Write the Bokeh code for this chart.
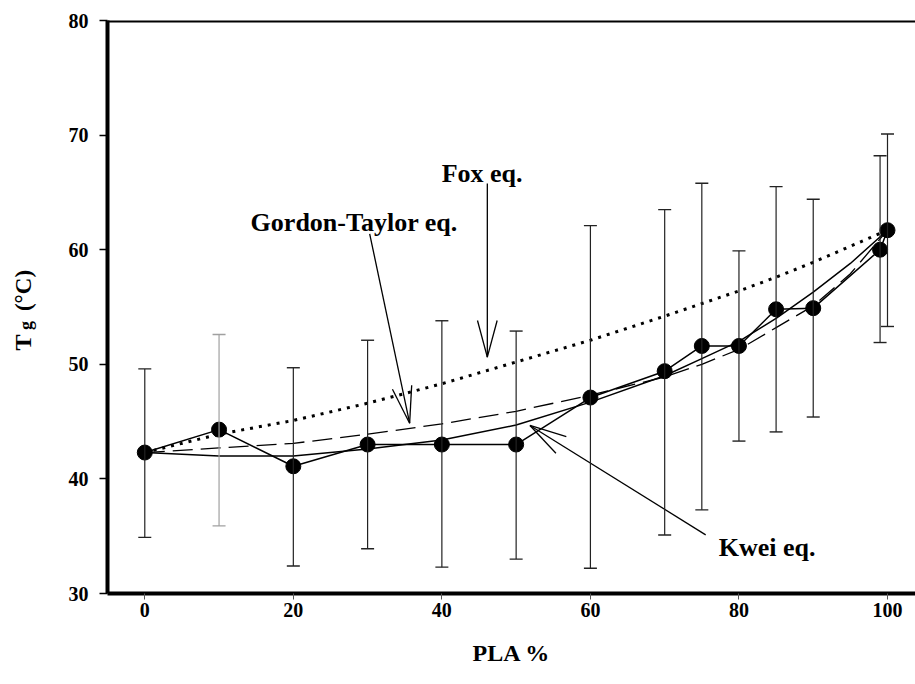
import math
from bokeh.plotting import figure
from bokeh.layouts import row
from bokeh.models import (Range1d, ColumnDataSource, Whisker, TeeHead, Label,
                          Span, FixedTicker)
from bokeh.core.properties import value
from bokeh.embed import file_html
from bokeh.resources import INLINE

# ---------------- data ----------------
pla = [0, 10, 20, 30, 40, 50, 60, 70, 75, 80, 85, 90, 99, 100]
tg = [42.3, 44.3, 41.1, 43.0, 43.0, 43.0, 47.1, 49.4, 51.6, 51.6, 54.8, 54.9, 60.0, 61.7]
tg_upper = [49.6, 52.6, 49.7, 52.1, 53.8, 52.9, 62.1, 63.5, 65.8, 59.9, 65.5, 64.4, 68.2, 70.1]
tg_lower = [34.9, 35.9, 32.4, 33.9, 32.3, 33.0, 32.2, 35.1, 37.3, 43.3, 44.1, 45.4, 51.9, 53.3]

curve_x = [0, 10, 20, 30, 40, 50, 60, 70, 75, 80, 85, 90, 95, 100]
fox_y = [42.3, 43.9, 45.1, 46.6, 48.3, 50.2, 52.1, 54.2, 55.3, 56.4, 57.6, 58.9, 60.3, 61.7]
gordon_taylor_y = [42.3, 42.7, 43.1, 43.9, 44.8, 45.9, 47.3, 48.9, 50.0, 51.3, 53.2, 55.1, 57.9, 61.7]
kwei_y = [42.3, 42.0, 42.0, 42.6, 43.4, 44.7, 46.7, 49.0, 50.5, 52.0, 54.0, 56.3, 58.8, 61.7]

x_ticks = [0, 20, 40, 60, 80, 100]
y_ticks = [30, 40, 50, 60, 70, 80]

note_text = ["Fox eq.", "Gordon-Taylor eq.", "Kwei eq."]
note_x = [39.97, 14.25, 77.27]
note_y = [66.65, 62.37, 34.0]
arrow_tail_x = [46.12, 30.28, 75.52]
arrow_tail_y = [65.78, 61.39, 35.12]
arrow_tip_x = [46.12, 35.66, 51.86]
arrow_tip_y = [50.62, 44.86, 44.66]

y_title_parts = ["T", "g", "(°C)"]

# ---------------- layout constants ----------------
W, H = 915, 684
LAB_W = 50                      # strip holding the rotated y title
X0, X1 = -5.02, 103.77
Y0, Y1 = 30, 80
FW, FH = 808, 573
FONT = "Liberation Serif"

# ---------------- y title strip ----------------
lab = figure(frame_width=LAB_W, frame_height=H, x_range=Range1d(0, LAB_W),
             y_range=Range1d(0, H), output_backend="svg", toolbar_location=None,
             x_axis_location=None, y_axis_location=None,
             min_border_left=0, min_border_right=0, min_border_top=0, min_border_bottom=0,
             background_fill_color="white", border_fill_color="white")
lab.outline_line_color = None
lab.xgrid.visible = False
lab.ygrid.visible = False
# (text, font size, centre x, centre y from top)
title_layout = [(y_title_parts[0], "24px", 22.5, 322),
                (y_title_parts[1], "18px", 25.5, 305),
                (y_title_parts[2], "23px", 22.5, 270)]
for t, fs, cx, cy in title_layout:
    lab.text(x=[cx], y=[H - cy], text=[t], angle=math.pi / 2,
             text_font=value(FONT), text_font_style="bold", text_font_size=value(fs),
             text_color="black", text_align="center", text_baseline="middle")

# ---------------- main figure ----------------
p = figure(frame_width=FW, frame_height=FH,
           x_range=Range1d(X0, X1), y_range=Range1d(Y0, Y1),
           output_backend="svg", toolbar_location=None,
           min_border_left=107 - LAB_W, min_border_right=0,
           min_border_top=20, min_border_bottom=91,
           background_fill_color="white", border_fill_color="white")
p.outline_line_color = None
p.xgrid.visible = False
p.ygrid.visible = False

for ax in (p.xaxis[0], p.yaxis[0]):
    ax.axis_line_width = 4
    ax.axis_line_color = "black"
    ax.minor_tick_line_color = None
    ax.major_tick_in = 0
    ax.major_label_text_font = FONT
    ax.major_label_text_font_style = "bold"
    ax.major_label_text_font_size = "20px"
    ax.major_label_text_color = "black"

p.xaxis.ticker = FixedTicker(ticks=x_ticks)
p.yaxis.ticker = FixedTicker(ticks=y_ticks)
p.xaxis.major_tick_out = 6
p.xaxis.major_tick_line_width = 1
p.xaxis.major_tick_line_color = "#555555"
p.xaxis.major_label_standoff = 3
p.yaxis.major_tick_out = 8
p.yaxis.major_tick_line_width = 1.5
p.yaxis.major_label_standoff = 11

p.xaxis.axis_label = "PLA %"
p.xaxis.axis_label_text_font = FONT
p.xaxis.axis_label_text_font_style = "bold"
p.xaxis.axis_label_text_font_size = "24px"
p.xaxis.axis_label_text_color = "black"
p.xaxis.axis_label_standoff = 20

# top border
p.add_layout(Span(location=Y1, dimension="width", line_color="black", line_width=4))

# ---------------- error bars ----------------
dark_idx = [i for i, v in enumerate(pla) if v != 10]
gray_idx = [i for i, v in enumerate(pla) if v == 10]
for idx, col in ((dark_idx, "#222222"), (gray_idx, "#a0a0a0")):
    src = ColumnDataSource(dict(x=[pla[i] for i in idx],
                                up=[tg_upper[i] for i in idx],
                                lo=[tg_lower[i] for i in idx]))
    p.add_layout(Whisker(source=src, base="x", upper="up", lower="lo",
                         line_color=col, line_width=1.2,
                         upper_head=TeeHead(size=13, line_color=col, line_width=1.4),
                         lower_head=TeeHead(size=13, line_color=col, line_width=1.4),
                         level="glyph"))

# ---------------- model curves ----------------
p.line(curve_x, fox_y, line_color="black", line_width=3, line_dash="3 6")
p.line(curve_x, gordon_taylor_y, line_color="black", line_width=1.3, line_dash="20 8")
p.line(curve_x, kwei_y, line_color="black", line_width=1.5)

# ---------------- measured data ----------------
p.line(pla, tg, line_color="black", line_width=1.5)
p.scatter(pla, tg, size=15, fill_color="black", line_color="black")

# ---------------- annotations ----------------
px_x = FW / (X1 - X0)
px_y = FH / (Y1 - Y0)
arm_len, arm_ang = 38.0, math.radians(15)
seg = dict(x0=[], y0=[], x1=[], y1=[])
for tx, ty, hx, hy in zip(arrow_tail_x, arrow_tail_y, arrow_tip_x, arrow_tip_y):
    seg["x0"].append(tx); seg["y0"].append(ty); seg["x1"].append(hx); seg["y1"].append(hy)
    dx, dy = (hx - tx) * px_x, (hy - ty) * px_y
    L = math.hypot(dx, dy)
    bx, by = -dx / L, -dy / L
    for s in (1, -1):
        a = s * arm_ang
        rx = bx * math.cos(a) - by * math.sin(a)
        ry = bx * math.sin(a) + by * math.cos(a)
        seg["x0"].append(hx); seg["y0"].append(hy)
        seg["x1"].append(hx + rx * arm_len / px_x)
        seg["y1"].append(hy + ry * arm_len / px_y)
p.segment(x0="x0", y0="y0", x1="x1", y1="y1", source=ColumnDataSource(seg),
          line_color="black", line_width=1.3)

for t, x, y in zip(note_text, note_x, note_y):
    p.add_layout(Label(x=x, y=y, text=t, text_font=FONT, text_font_style="bold",
                       text_font_size="26px", text_color="black",
                       text_align="left", text_baseline="alphabetic"))

layout = row(lab, p, spacing=0)
open("out.html", "w").write(file_html(layout, INLINE))
